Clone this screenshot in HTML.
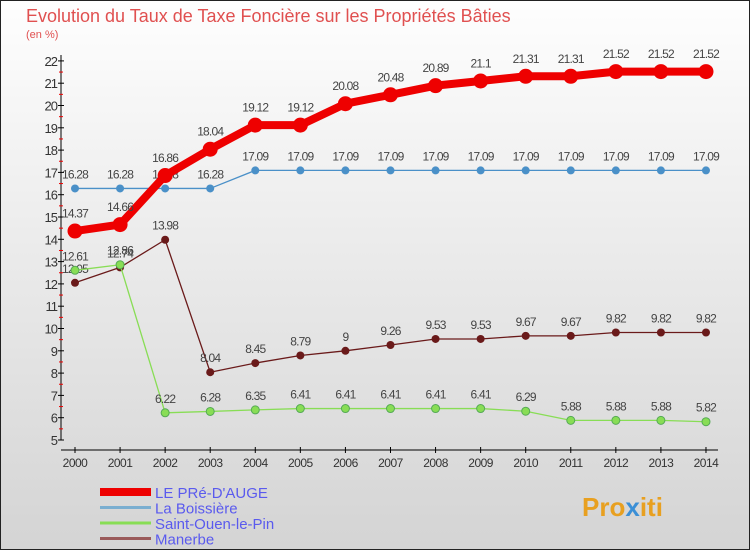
<!DOCTYPE html>
<html><head><meta charset="utf-8"><style>
body{margin:0}
svg{display:block;font-family:"Liberation Sans",sans-serif}
</style></head><body>
<svg id="c" width="750" height="550">
<defs><linearGradient id="bg" x1="0" y1="0" x2="0" y2="1"><stop offset="0" stop-color="#fefefe"/><stop offset="1" stop-color="#d4d4d4"/></linearGradient></defs>
<rect x="0.5" y="0.5" width="749" height="549" fill="url(#bg)" stroke="#222"/>
<text x="26" y="22" font-size="18" fill="#e05050">Evolution du Taux de Taxe Foncière sur les Propriétés Bâties</text>
<text x="26" y="38" font-size="11" fill="#e05050">(en %)</text>
<g id="axes"></g><g id="series"></g><g id="legend"></g>
<text x="582" y="516" font-size="26" font-weight="bold" fill="#e8a020">Pro<tspan fill="#3b8fd6">x</tspan>iti</text>
</svg>
<script>
const years=[2000,2001,2002,2003,2004,2005,2006,2007,2008,2009,2010,2011,2012,2013,2014];
const pre=[14.37,14.66,16.86,18.04,19.12,19.12,20.08,20.48,20.89,21.1,21.31,21.31,21.52,21.52,21.52];
const boi=[16.28,16.28,16.28,16.28,17.09,17.09,17.09,17.09,17.09,17.09,17.09,17.09,17.09,17.09,17.09];
const sop=[12.61,12.86,6.22,6.28,6.35,6.41,6.41,6.41,6.41,6.41,6.29,5.88,5.88,5.88,5.82];
const man=[12.05,12.74,13.98,8.04,8.45,8.79,9,9.26,9.53,9.53,9.67,9.67,9.82,9.82,9.82];
const yTicks=[5,6,7,8,9,10,11,12,13,14,15,16,17,18,19,20,21,22];
const NS="http://www.w3.org/2000/svg";
const X=i=>75+i*45.07, Y=v=>440-(v-5)*22.3;
function mk(p,t,a,txt){const e=document.createElementNS(NS,t);for(const k in a)e.setAttribute(k,a[k]);if(txt!==undefined)e.textContent=txt;p.appendChild(e);return e;}
const ax=document.getElementById('axes');
let e=mk(ax,'line',{x1:61,y1:55,x2:61,y2:440,stroke:'#000'});


e=mk(ax,'line',{x1:61,y1:450,x2:718,y2:450,stroke:'#000'});


yTicks.forEach(v=>{const y=Y(v);
 mk(ax,'line',{x1:58,y1:y,x2:64,y2:y,stroke:'#000'});
 if(v<22)mk(ax,'line',{x1:59,y1:y-11.15,x2:63,y2:y-11.15,stroke:'#e00'});
 const t=mk(ax,'text',{x:57,y:y+5,'font-size':13,'text-anchor':'end',fill:'#333','letter-spacing':'-1'},v);
 
 });
years.forEach((yr,i)=>{const x=X(i);
 mk(ax,'line',{x1:x,y1:447,x2:x,y2:453,stroke:'#000'});
 const t=mk(ax,'text',{x:x,y:467,'font-size':12,'text-anchor':'middle',fill:'#333','letter-spacing':'-0.5'},yr);
 
 });
const S=document.getElementById('series');
const series=[
 {d:man,c:'#6a1a1a',w:1.3,r:4,n:'manerbe'},
 {d:sop,c:'#88dd55',w:1.3,r:4,n:'saint-ouen-le-pin'},
 {d:boi,c:'#4a90c8',w:1.3,r:4,n:'la-boissiere'},
 {d:pre,c:'#ee0000',w:8,r:7.5,n:'le-pre-dauge'}];
series.forEach(s=>{
 const g=mk(S,'g',{});
 
 
 const pl=mk(g,'polyline',{points:s.d.map((v,i)=>X(i)+','+Y(v)).join(' '),fill:'none',stroke:s.c,'stroke-width':s.w,'stroke-linejoin':'round'});
 
 
 s.d.forEach((v,i)=>{
  const c=mk(g,'circle',{cx:X(i),cy:Y(v),r:s.r,fill:s.c,stroke:s.n==='saint-ouen-le-pin'?'#5a5':'none'});
  
  
  const t=mk(g,'text',{x:X(i),y:Y(v)-(s.r+6),'font-size':12,'text-anchor':'middle',fill:'#444','letter-spacing':'-0.8'},v);
  
  
 });
});
const L=document.getElementById('legend');
[['LE PRé-D\'AUGE','#ee0000',8],['La Boissière','#7aaed0',3],['Saint-Ouen-le-Pin','#88dd55',3],['Manerbe','#9a5a5a',3]].forEach((l,i)=>{
 const y=492+i*15.5;
 const g=mk(L,'g',{});
 
 
 mk(g,'line',{x1:100,y1:y,x2:151,y2:y,stroke:l[1],'stroke-width':l[2]});
 mk(g,'text',{x:155,y:y+6,'font-size':15,fill:'#5a5aee'},l[0]);
});
</script>
</body></html>
